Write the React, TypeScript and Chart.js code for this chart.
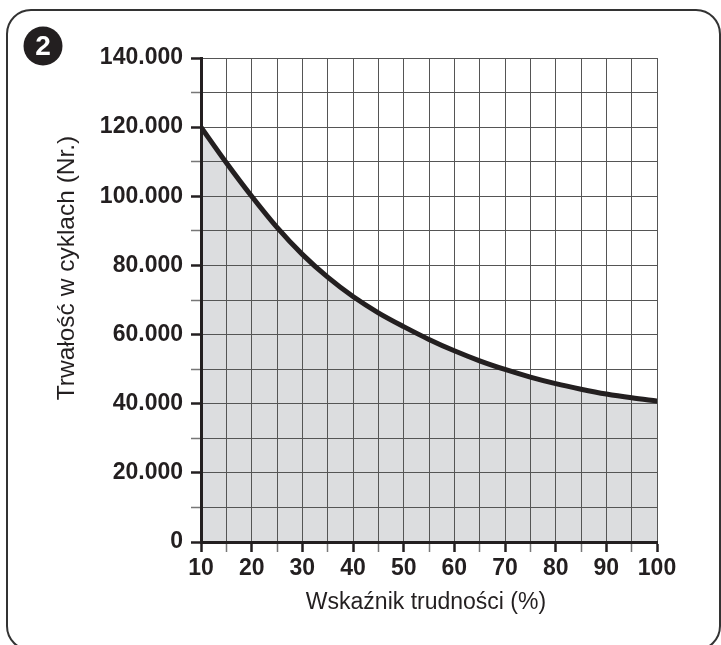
import React, { useEffect, useRef } from "react";
import { Chart, registerables } from "chart.js";

Chart.register(...registerables);

const difficulty = [10, 15, 20, 25, 30, 35, 40, 45, 50, 55, 60, 65, 70, 75, 80, 85, 90, 95, 100];
const cycles = [120000, 109700, 100000, 91000, 83200, 76600, 71000, 66300, 62300, 58600, 55300, 52400, 49900, 47700, 45800, 44200, 42800, 41700, 40800];
const yTickValues = [0, 20000, 40000, 60000, 80000, 100000, 120000, 140000];
const yTickLabels = ["0", "20.000", "40.000", "60.000", "80.000", "100.000", "120.000", "140.000"];
const xTickValues = [10, 20, 30, 40, 50, 60, 70, 80, 90, 100];
const xTitle = "Wskaźnik trudności (%)";
const yTitle = "Trwałość w cyklach (Nr.)";
const badge = "2";

const INK = "#231f20";
const FONT = "'Liberation Sans', Arial, sans-serif";

const decorPlugin = {
  id: "decor",
  afterDraw(chart: any) {
    const ctx = chart.ctx as CanvasRenderingContext2D;
    const area = chart.chartArea;
    ctx.save();
    // rounded frame
    ctx.strokeStyle = "#333";
    ctx.lineWidth = 2;
    ctx.beginPath();
    (ctx as any).roundRect(7, 10, 713, 640, 24);
    ctx.stroke();
    // badge
    ctx.fillStyle = INK;
    ctx.beginPath();
    ctx.arc(43, 46, 19.5, 0, Math.PI * 2);
    ctx.fill();
    ctx.fillStyle = "#fff";
    ctx.font = `bold 28px ${FONT}`;
    ctx.textAlign = "center";
    ctx.textBaseline = "middle";
    ctx.fillText(badge, 43, 47);
    // titles
    ctx.fillStyle = INK;
    ctx.font = `23px ${FONT}`;
    ctx.textAlign = "center";
    ctx.textBaseline = "alphabetic";
    ctx.fillText(xTitle, (area.left + area.right) / 2 - 3, 609);
    ctx.font = `24.5px ${FONT}`;
    ctx.translate(74, 268);
    ctx.rotate(-Math.PI / 2);
    ctx.fillText(yTitle, 0, 0);
    ctx.restore();
  },
};

export default function App() {
  const ref = useRef<HTMLCanvasElement | null>(null);

  useEffect(() => {
    document.body.style.margin = "0";
    const canvas = ref.current!;
    const chart = new Chart(canvas, {
      type: "line",
      data: {
        datasets: [
          {
            data: difficulty.map((x, i) => ({ x, y: cycles[i] })),
            borderColor: INK,
            borderWidth: 5,
            backgroundColor: "#dcdddf",
            fill: "origin",
            pointRadius: 0,
            cubicInterpolationMode: "monotone",
            borderCapStyle: "round",
          },
        ],
      },
      options: {
        animation: false,
        responsive: false,
        maintainAspectRatio: false,
        devicePixelRatio: 1,
        layout: { padding: { left: 0, top: 58, right: 64, bottom: 0 } },
        plugins: {
          legend: { display: false },
          tooltip: { enabled: false },
          filler: { drawTime: "beforeDraw" } as any,
        },
        scales: {
          x: {
            type: "linear",
            min: 10,
            max: 100,
            afterFit: (s: any) => {
              s.height = 103;
            },
            ticks: {
              stepSize: 5,
              autoSkip: false,
              maxRotation: 0,
              padding: 3,
              color: INK,
              font: { family: FONT, size: 23, weight: "bold" },
              callback: (v: any) => (xTickValues.includes(Number(v)) ? String(v) : ""),
            },
            grid: {
              color: "#555",
              lineWidth: 1,
              tickLength: 10,
              tickColor: (c: any) => (c.tick && c.tick.value % 10 === 0 ? INK : "#777"),
              tickWidth: (c: any) => (c.tick && c.tick.value % 10 === 0 ? 2.5 : 1.5),
            },
            border: { display: true, color: INK, width: 3 },
          },
          y: {
            type: "linear",
            min: 0,
            max: 140000,
            afterFit: (s: any) => {
              s.width = 201;
            },
            ticks: {
              stepSize: 10000,
              autoSkip: false,
              padding: 8,
              color: INK,
              font: { family: FONT, size: 23, weight: "bold" },
              callback: (v: any) => {
                const i = yTickValues.indexOf(Number(v));
                return i >= 0 ? yTickLabels[i] : "";
              },
            },
            grid: {
              color: "#555",
              lineWidth: 1,
              tickLength: 10,
              tickColor: (c: any) => (c.tick && c.tick.value % 20000 === 0 ? INK : "#777"),
              tickWidth: (c: any) => (c.tick && c.tick.value % 20000 === 0 ? 2.5 : 1.5),
            },
            border: { display: true, color: INK, width: 3 },
          },
        },
      },
      plugins: [decorPlugin],
    });
    return () => chart.destroy();
  }, []);

  return (
    <div style={{ position: "fixed", left: 0, top: 0, width: 721, height: 645, background: "#fff" }}>
      <canvas ref={ref} width={721} height={645} style={{ width: 721, height: 645, display: "block" }} />
    </div>
  );
}
